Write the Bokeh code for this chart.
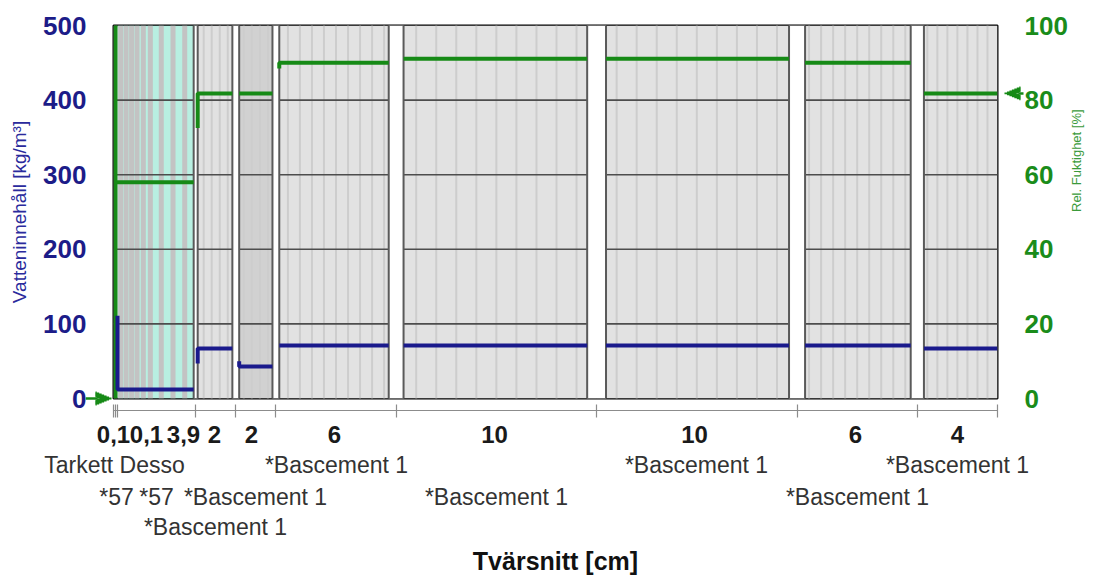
import math
import numpy as np
from bokeh.plotting import figure
from bokeh.models import Range1d, LinearAxis, FixedTicker, Arrow, NormalHead
from bokeh.embed import file_html
from bokeh.resources import INLINE

# ---------------- data ----------------
layer_cm = [0.1, 0.1, 3.9, 2, 2, 6, 10, 10, 6, 4]
thickness_labels = ["0,1", "0,1", "3,9", "2", "2", "6", "10", "10", "6", "4"]
materials = ["Tarkett Desso", "*57", "*57", "*Bascement 1", "*Bascement 1",
             "*Bascement 1", "*Bascement 1", "*Bascement 1", "*Bascement 1", "*Bascement 1"]
material_row = [0, 1, 1, 2, 1, 0, 1, 0, 1, 0]
# water content [kg/m3] at left edge of each layer and plateau
water_edge = [None, None, 111, 47, 50, 71, 71, 71, 71, 67]
water_level = [None, None, 12, 67, 43, 71, 71, 71, 71, 67]
# relative humidity [%]
rh_edge = [0, 0, 58, 72.5, 81.8, 88.5, 91.1, 91.1, 90, 81.8]
rh_level = [0, 100, 58, 81.8, 81.8, 90, 91.1, 91.1, 90, 81.8]
rh_boundary = [0, 81.8]
left_ticks = [0, 100, 200, 300, 400, 500]
right_ticks = [0, 20, 40, 60, 80, 100]

# ---------------- style ----------------
BLUE = "#1a1a8c"
GREEN = "#168a16"
layer_colors = ["#c6c6c6", "#c6c6c6", "#b8efe1", "#e1e1e1", "#d1d1d1",
                "#e2e2e2", "#e2e2e2", "#e2e2e2", "#e2e2e2", "#e2e2e2"]
mesh_count = [0, 0, 0, 4, 4, 9, 9, 9, 9, 7]
cyan_mesh = [0.04, 0.11, 0.18, 0.25, 0.33, 0.42, 0.56, 0.71, 0.86]
gap_half = [0, 0, 0, 0.1, 0.17, 0.17, 0.37, 0.47, 0.4, 0.33, 0]  # per boundary
label_dx = [-1, 30, 27, -1, -4, -2, -2, -2, -2, 0]
FRAME_W, FRAME_H = 884, 373

bounds = np.concatenate([[0], np.cumsum(layer_cm)])
total = float(bounds[-1])
W_MAX = 500.0
px2w = W_MAX / FRAME_H
px2cm = total / FRAME_W
cm2px = FRAME_W / total

p = figure(width=1096, height=579, output_backend="svg", toolbar_location=None,
           x_axis_type=None, y_axis_type=None,
           x_range=Range1d(0, total), y_range=Range1d(0, W_MAX),
           min_border_left=113, min_border_right=99, min_border_top=25, min_border_bottom=181)
p.extra_y_ranges = {"rh": Range1d(0, 100)}
p.extra_x_ranges = {"px": Range1d(0, FRAME_W)}
p.outline_line_color = "black"
p.outline_line_width = 2
p.xgrid.visible = False
p.ygrid.visible = False
p.background_fill_color = "white"
p.border_fill_color = "white"

# layer backgrounds
p.quad(left=bounds[:-1], right=bounds[1:], bottom=0, top=W_MAX,
       fill_color=layer_colors, line_color=None)

# mesh lines
mx, mcol, mw = [], [], []
for i, n in enumerate(mesh_count):
    for k in range(1, n + 1):
        mx.append(bounds[i] + (bounds[i + 1] - bounds[i]) * k / (n + 1))
        mcol.append("#cdcdcd"); mw.append(2)
for f in cyan_mesh:
    mx.append(bounds[2] + (bounds[3] - bounds[2]) * f)
    mcol.append("#c3c3c3"); mw.append(5)
p.segment(x0=mx, y0=[0] * len(mx), x1=mx, y1=[W_MAX] * len(mx), line_color=mcol, line_width=mw)

# horizontal grid lines
gy = left_ticks[1:-1]
p.segment(x0=[0] * len(gy), x1=[total] * len(gy), y0=gy, y1=gy,
          line_color="#4d4d4d", line_width=1.6)

# white separators at layer boundaries
gl, gr = [], []
for j in range(1, len(bounds) - 1):
    if gap_half[j] > 0:
        gl.append(bounds[j] - gap_half[j]); gr.append(bounds[j] + gap_half[j])
p.quad(left=gl, right=gr, bottom=0, top=W_MAX, fill_color="white", line_color=None)
ex = gl + gr
p.segment(x0=ex, x1=ex, y0=[0] * len(ex), y1=[W_MAX] * len(ex),
          line_color="#5a5a5a", line_width=2)


def profile(edge, level):
    xs, ys = [], []
    for i in range(len(layer_cm)):
        if edge[i] is None:
            continue
        xl = bounds[i] + gap_half[i]
        xr = bounds[i + 1] - gap_half[i + 1]
        xs += [xl, xl, xr, np.nan]
        ys += [edge[i], level[i], level[i], np.nan]
    return xs, ys


rx, ry = profile(rh_edge, rh_level)
p.line(rx, ry, line_color=GREEN, line_width=4, y_range_name="rh")
wx, wy = profile(water_edge, water_level)
p.line(wx, wy, line_color=BLUE, line_width=4)

# ---- y axes ----
ly = LinearAxis(ticker=FixedTicker(ticks=left_ticks), axis_label="Vatteninnehåll [kg/m³]")
ry_ax = LinearAxis(ticker=FixedTicker(ticks=right_ticks), y_range_name="rh",
                   axis_label="Rel. Fuktighet [%]")
for ax, col, tcol, fs, st in ((ly, "#1c1c88", "#2a2a9c", "19px", 10),
                              (ry_ax, "#1a8c1a", "#3a9a3a", "13px", 6)):
    ax.axis_line_color = None
    ax.major_tick_line_color = None
    ax.minor_tick_line_color = None
    ax.major_tick_out = 0
    ax.major_tick_in = 0
    ax.major_label_standoff = 27
    ax.major_label_text_font = "Liberation Sans"
    ax.major_label_text_font_size = "26px"
    ax.major_label_text_font_style = "bold"
    ax.major_label_text_color = col
    ax.axis_label_text_font = "Liberation Sans"
    ax.axis_label_text_font_size = fs
    ax.axis_label_text_font_style = "normal"
    ax.axis_label_text_color = tcol
    ax.axis_label_standoff = st
ry_ax.axis_label_orientation = math.pi / 2
p.add_layout(ly, "left")
p.add_layout(ry_ax, "right")

# ---- x axes stacked below (spacer, thickness row, 3 material rows) ----
centers_px = [(bounds[i] + bounds[i + 1]) / 2 * cm2px for i in range(len(layer_cm))]
bounds_px = [float(b * cm2px) for b in bounds]


def overrides(pos, labels):
    d = {}
    for x, t in zip(pos, labels):
        d[x] = t
        d[str(x)] = t
    return d


def plain(ax):
    ax.axis_line_color = None
    ax.major_tick_line_color = None
    ax.minor_tick_line_color = None
    ax.major_tick_in = 0
    ax.major_tick_out = 0
    ax.minor_tick_in = 0
    ax.minor_tick_out = 0
    ax.major_label_text_font = "Liberation Sans"


spacer = LinearAxis(x_range_name="px", ticker=FixedTicker(ticks=[0]),
                    major_label_overrides={0: "", "0": ""})
plain(spacer)
spacer.major_tick_out = 12
spacer.major_label_standoff = 0
spacer.major_label_text_font_size = "1px"
p.add_layout(spacer, "below")

thick_pos = [max(0, int(round(c + dx))) for c, dx in zip(centers_px, label_dx)]
thick = LinearAxis(x_range_name="px", ticker=FixedTicker(ticks=thick_pos, minor_ticks=bounds_px),
                   major_label_overrides=overrides(thick_pos, thickness_labels))
plain(thick)
thick.axis_line_color = "#8c8c8c"
thick.axis_line_width = 1.2
thick.minor_tick_line_color = "#8c8c8c"
thick.minor_tick_line_width = 1.2
thick.minor_tick_in = 6
thick.minor_tick_out = 7
thick.major_label_standoff = 8
thick.major_label_text_font_size = "24px"
thick.major_label_text_font_style = "bold"
thick.major_label_text_color = "#1a1a1a"
p.add_layout(thick, "below")

row_standoff = [6, 3, 1]
for r in range(3):
    pos = [int(round(centers_px[i])) for i in range(len(layer_cm)) if material_row[i] == r]
    labs = [materials[i] for i in range(len(layer_cm)) if material_row[i] == r]
    ax = LinearAxis(x_range_name="px", ticker=FixedTicker(ticks=pos),
                    major_label_overrides=overrides(pos, labs))
    plain(ax)
    ax.major_label_standoff = row_standoff[r]
    ax.major_label_text_font_size = "23px"
    ax.major_label_text_color = "#333333"
    if r == 2:
        ax.axis_label = "Tvärsnitt [cm]"
        ax.axis_label_standoff = 4
        ax.axis_label_text_font = "Liberation Sans"
        ax.axis_label_text_font_size = "25px"
        ax.axis_label_text_font_style = "bold"
        ax.axis_label_text_color = "#111111"
    p.add_layout(ax, "below")


# boundary condition markers: triangles built from horizontal strokes (added last)
def stroke(xa, xb, y, w):
    p.add_layout(Arrow(end=NormalHead(size=12, fill_alpha=0, line_alpha=0),
                       x_start=xa * px2cm, x_end=xb * px2cm, y_start=y, y_end=y,
                       line_color=GREEN, line_width=w))


def marker(tip, direction, val, tail):
    y0 = val * W_MAX / 100
    for k in range(-6, 7):
        L = 16 * (1 - abs(k) / 6.5)
        # draw each stroke from the base towards the tip
        stroke(tip + direction * 16, tip + direction * (16 - L), y0 + k * px2w, 1.8)
    stroke(tip + direction * tail, tip + direction * 14, y0, 2.5)


marker(-2, -1, rh_boundary[0], 26)
marker(FRAME_W + 7, 1, rh_boundary[1], 19)

open("out.html", "w").write(file_html(p, INLINE))
